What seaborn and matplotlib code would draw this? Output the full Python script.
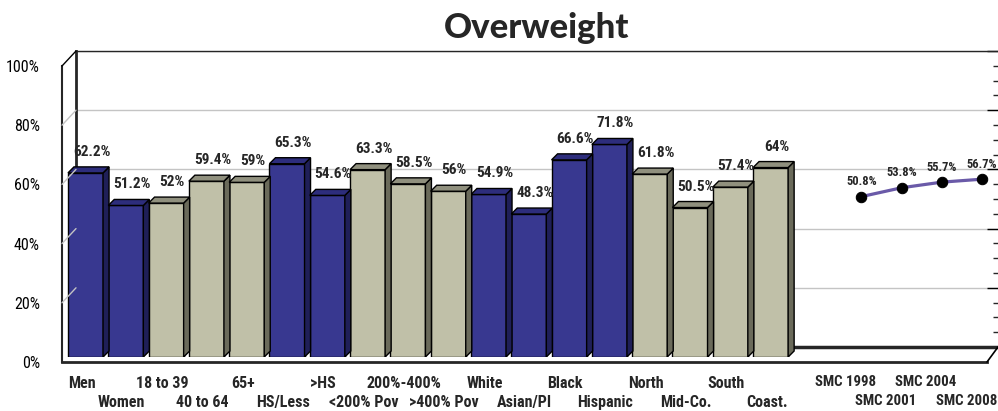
import numpy as np
import matplotlib
matplotlib.use("Agg")
import matplotlib.pyplot as plt
from matplotlib import font_manager as fm
from matplotlib.lines import Line2D
from matplotlib.patches import Polygon
from matplotlib.colors import to_hex
from matplotlib.transforms import ScaledTranslation
import seaborn as sns

# Chart data
groups = ["Men", "Women", "18 to 39", "40 to 64", "65+", "HS/Less", ">HS",
          "<200% Pov", "200%-400%", ">400% Pov", "White", "Asian/PI", "Black",
          "Hispanic", "North", "Mid-Co.", "South", "Coast."]
overweight = [62.2, 51.2, 52, 59.4, 59, 65.3, 54.6, 63.3, 58.5, 56, 54.9, 48.3,
              66.6, 71.8, 61.8, 50.5, 57.4, 64]
shade = ["blue", "blue", "gray", "gray", "gray", "blue", "blue", "gray", "gray",
         "gray", "blue", "blue", "blue", "blue", "gray", "gray", "gray", "gray"]
years = ["SMC 1998", "SMC 2001", "SMC 2004", "SMC 2008"]
trend = [50.8, 53.8, 55.7, 56.7]
y_ticks = [0, 20, 40, 60, 80, 100]

# colours: front, side, top
faces = {
    "blue": ("#383890", "#1f1f58", "#2d2d7c"),
    "gray": ("#c0c0a8", "#6a6a5a", "#90907e"),
}


# the original uses a narrow sans; take whatever condensed face is installed
def pick_narrow():
    fonts = fm.fontManager.ttflist
    names = {f.name for f in fonts}
    for n in ["Liberation Sans Narrow", "Arial Narrow", "Roboto Condensed",
              "Noto Sans Condensed", "Open Sans Condensed"]:
        if n in names:
            return n, "normal", 11.5
    for fam in ["Liberation Sans", "Roboto", "Noto Sans", "Open Sans", "DejaVu Sans"]:
        for f in fonts:
            if f.name == fam and f.stretch in ("condensed", "semi-condensed", "extra-condensed"):
                return fam, "condensed", 11.5
    return "Liberation Sans", "normal", 10


narrow, stretch, lab_size = pick_narrow()

sns.set_style("white")
plt.rcParams["font.family"] = [narrow, "Liberation Sans", "DejaVu Sans"]
plt.rcParams["font.stretch"] = stretch

W, H = 998, 411
fig = plt.figure(figsize=(W / 100, H / 100), dpi=100)


def box(x0, y_top, x1, y_bot):
    return [x0 / W, 1 - y_bot / H, (x1 - x0) / W, (y_bot - y_top) / H]


PITCH, X0 = 40.3, 85.5  # pixel spacing of categories, centre of first bar


def xu(px):
    return (px - X0) / PITCH


def shift(px):
    return ScaledTranslation(px / 100, 0, fig.dpi_scale_trans)


def two_rows(ax, pos, labels, pad, dx, size):
    # alternate labels between an upper and a lower row
    ax.set_xticks(pos[0::2], labels[0::2])
    ax.set_xticks(pos[1::2], labels[1::2], minor=True)
    ax.tick_params(axis="x", which="major", length=0, pad=pad)
    ax.tick_params(axis="x", which="minor", length=0, pad=pad + 13.5)
    for lbl in ax.get_xticklabels() + ax.get_xticklabels(minor=True):
        lbl.set_fontsize(size)
        lbl.set_fontweight("bold")
        lbl.set_transform(lbl.get_transform() + shift(dx))


# back wall + trend line
ax_back = fig.add_axes(box(76, 51, 998, 347))
trend_x = len(groups) + 1.25 + np.arange(len(years))
sns.lineplot(x=trend_x, y=trend, ax=ax_back, color="#6a5aa8", linewidth=2.3,
             marker="o", markersize=7.5, markerfacecolor="black",
             markeredgecolor="black")
for xv, yv in zip(trend_x, trend):
    ax_back.annotate(f"{yv:g}%", (xv, yv), xytext=(0, 15), textcoords="offset pixels",
                     ha="center", va="center", fontsize=9, fontweight="bold")
ax_back.set_xlim(xu(76), xu(998))
ax_back.set_ylim(0, 100)
ax_back.set_yticks(y_ticks)
ax_back.set_yticks(np.arange(0, 101, 5), minor=True)
ax_back.yaxis.grid(True, color="#c4c4c4", linewidth=1)
ax_back.yaxis.tick_right()
ax_back.tick_params(axis="y", which="major", direction="in", length=8, width=1,
                    labelright=False, colors="black")
ax_back.tick_params(axis="y", which="minor", direction="in", length=3.6, width=1,
                    right=True)
two_rows(ax_back, trend_x, years, 20.5, -16, lab_size - 0.8)
ax_back.spines["right"].set_visible(False)
ax_back.spines["top"].set_linewidth(1)
ax_back.spines["left"].set_linewidth(2)
ax_back.spines["bottom"].set_linewidth(2.5)
ax_back.spines["bottom"].set_bounds(xu(793), xu(998))
ax_back.set_ylabel("")

# bars
ax_bar = fig.add_axes(box(62, 61, 998, 357))
ax_bar.patch.set_visible(False)
sns.barplot(x=groups, y=overweight, hue=shade, palette={k: v[0] for k, v in faces.items()},
            dodge=False, width=0.87, saturation=1, edgecolor="black", linewidth=1,
            legend=False, ax=ax_bar)
ax_bar.set_xlim(xu(62), xu(998))
ax_bar.set_ylim(0, 100)
depth = 6
dx, dy = depth / PITCH, depth / 2.96
front_to_key = {v[0]: k for k, v in faces.items()}
for p in list(ax_bar.patches):
    h = p.get_height()
    if not np.isfinite(h) or h <= 0:
        continue
    x, w = p.get_x(), p.get_width()
    key = front_to_key.get(to_hex(p.get_facecolor()), "gray")
    side = Polygon([(x + w, 0), (x + w + dx, dy), (x + w + dx, h + dy), (x + w, h)],
                   closed=True, facecolor=faces[key][1], edgecolor="black", linewidth=1)
    top = Polygon([(x, h), (x + dx, h + dy), (x + w + dx, h + dy), (x + w, h)],
                  closed=True, facecolor=faces[key][2], edgecolor="black", linewidth=1)
    ax_bar.add_patch(side)
    ax_bar.add_patch(top)
    ax_bar.annotate(f"{h:g}%", (x + w / 2, h), xytext=(6, 21), textcoords="offset pixels",
                    ha="center", va="center", fontsize=11, fontweight="bold")
two_rows(ax_bar, np.arange(len(groups)), groups, 13.5, -4, lab_size)
ax_bar.set_yticks([])
ax_bar.set_ylabel("")
for s in ax_bar.spines.values():
    s.set_visible(False)

# front frame with the percentage axis
ax_front = fig.add_axes(box(62, 66, 987, 362))
ax_front.patch.set_visible(False)
ax_front.set_ylim(0, 100)
ax_front.set_xticks([])
ax_front.set_yticks(y_ticks)
ax_front.set_yticklabels([f"{t}%" for t in y_ticks], fontsize=11.5)
ax_front.set_yticks(np.arange(0, 101, 5), minor=True)
ax_front.tick_params(axis="y", which="both", direction="in", length=4.3, width=1,
                     pad=16, colors="black")
ax_front.spines["top"].set_visible(False)
ax_front.spines["right"].set_visible(False)
ax_front.spines["left"].set_linewidth(1.5)
ax_front.spines["bottom"].set_linewidth(2)

# side wall / floor edges
to_fig = fig.transFigure.inverted()


def link(a, b, color, lw):
    p0 = to_fig.transform(a)
    p1 = to_fig.transform(b)
    fig.add_artist(Line2D([p0[0], p1[0]], [p0[1], p1[1]], transform=fig.transFigure,
                          color=color, linewidth=lw))


for t in y_ticks[1:-1]:
    link(ax_front.transAxes.transform((0, t / 100)), ax_back.transAxes.transform((0, t / 100)),
         "#c4c4c4", 1)
link(ax_front.transAxes.transform((0, 1)), ax_back.transAxes.transform((0, 1)), "black", 1)
link(ax_front.transAxes.transform((1, 0)), ax_back.transAxes.transform((1, 0)), "black", 1.2)

fig.text(537 / W, 1 - 28 / H, "Overweight", ha="center", va="center",
         fontsize=25, fontweight="black", family=["Lato", "DejaVu Sans"],
         fontstretch="normal")

fig.savefig("out.png", dpi=100)
